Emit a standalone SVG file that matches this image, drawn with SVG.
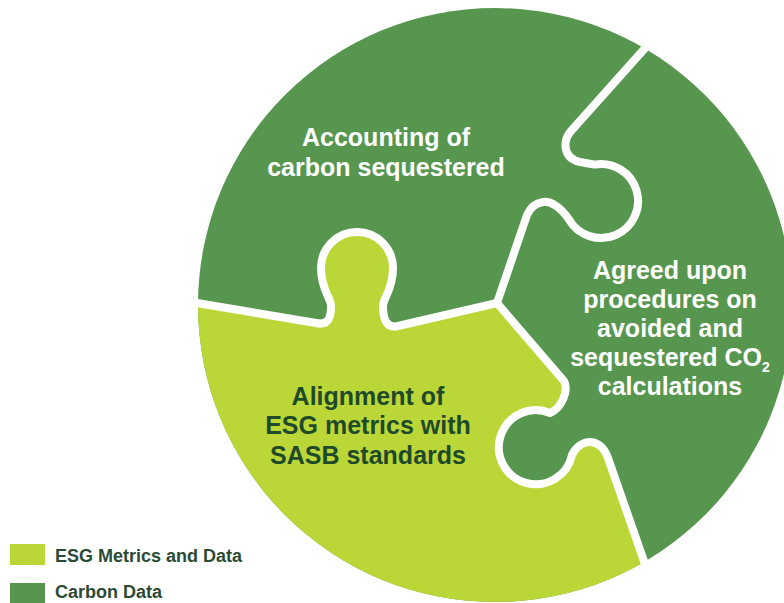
<svg xmlns="http://www.w3.org/2000/svg" width="784" height="603" viewBox="0 0 784 603">
<style>
.dark{fill:#57964f}
.lime{fill:#bbd737}
.cut{fill:none;stroke:#ffffff;stroke-width:8;stroke-linejoin:round;stroke-linecap:butt}
.tw{font-family:"Liberation Sans",Arial,sans-serif;font-weight:bold;font-size:25px;fill:#ffffff;text-anchor:middle}
.td{font-family:"Liberation Sans",Arial,sans-serif;font-weight:bold;font-size:25px;fill:#1f4a2a;text-anchor:middle}
.lg{font-family:"Liberation Sans",Arial,sans-serif;font-weight:bold;font-size:18px;fill:#2b4a35}
</style>
<defs>
<clipPath id="disc"><circle cx="495" cy="305" r="297"/></clipPath>
</defs>
<rect width="784" height="603" fill="#ffffff"/>
<g id="piece-carbon-accounting">
<circle class="dark" cx="495" cy="305" r="297"/>
</g>
<g id="piece-esg" clip-path="url(#disc)">
<path class="lime" d="M 180,300 L 316,323 C 328,326 331,318 331,306 C 331,298 321,290 321,268 A 36 36 0 0 1 393,268 C 393,290 383,298 383,306 C 383,318 386,329 398,326 L 497,303 L 564,381 C 569,390 562,408 550,413 A 37 37 0 1 0 572,455 C 575,448 582,442 590,442 C 596,442 604,446 608,458 L 650,578 L 700,700 L 100,700 Z"/>
</g>
<g id="connectors">
<path class="cut" d="M 655,37 L 571,131 C 563,140 562,158 580,162 C 586,163 590,164 594.6,164.6 A 37 37 0 1 1 569,219.5 C 560,206 550,201 543,202 C 536,203 530,208 527,215 L 497,303"/>
<path class="cut" d="M 185,301 L 316,323 C 328,326 331,318 331,306 C 331,298 321,290 321,268 A 36 36 0 0 1 393,268 C 393,290 383,298 383,306 C 383,318 386,329 398,326 L 497,303"/>
<path class="cut" d="M 497,303 L 564,381 C 569,390 562,408 550,413 A 37 37 0 1 0 572,455 C 575,448 582,442 590,442 C 596,442 604,446 608,458 L 652,584"/>
</g>
<g id="label-accounting">
<text class="tw" x="386" y="146">Accounting of</text>
<text class="tw" x="386" y="176">carbon sequestered</text>
</g>
<g id="label-agreed">
<text class="tw" x="670" y="279">Agreed upon</text>
<text class="tw" x="670" y="308">procedures on</text>
<text class="tw" x="670" y="337">avoided and</text>
<text class="tw" x="670" y="366">sequestered CO<tspan font-size="14" dy="6">2</tspan></text>
<text class="tw" x="670" y="395">calculations</text>
</g>
<g id="label-esg">
<text class="td" x="368" y="405">Alignment of</text>
<text class="td" x="368" y="434">ESG metrics with</text>
<text class="td" x="368" y="464">SASB standards</text>
</g>
<g id="legend">
<rect class="lime" x="10" y="544" width="35" height="21"/>
<text class="lg" x="55" y="562">ESG Metrics and Data</text>
<rect class="dark" x="10" y="583" width="35" height="20"/>
<text class="lg" x="55" y="598">Carbon Data</text>
</g>
</svg>
